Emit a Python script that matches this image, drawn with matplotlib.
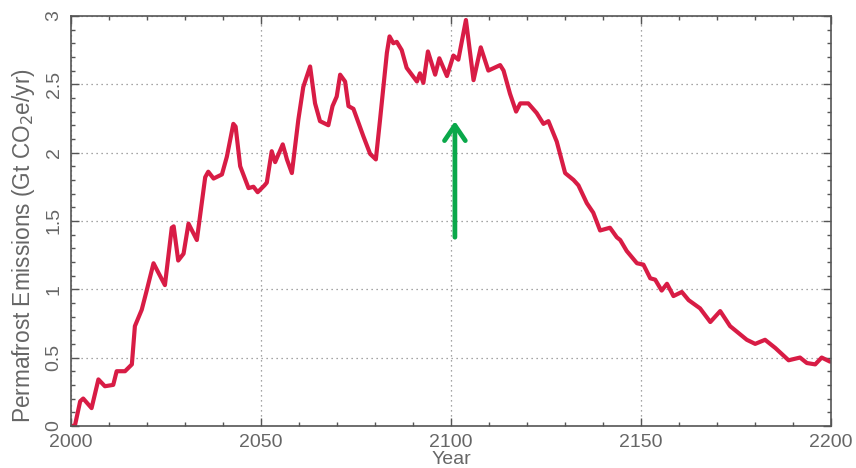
import matplotlib
matplotlib.use("Agg")
import matplotlib.pyplot as plt
from matplotlib.ticker import MultipleLocator

# permafrost carbon emissions, Gt CO2e per year
years = [2000.2, 2001.0, 2002.4, 2003.2, 2005.4, 2007.2, 2008.9, 2011.1, 2012.0,
         2014.2, 2016.0, 2016.8, 2018.6, 2019.9, 2021.7, 2023.0, 2024.7, 2026.5,
         2027.0, 2028.2, 2029.6, 2030.9, 2033.1, 2035.3, 2036.1, 2037.5, 2039.7,
         2041.0, 2042.7, 2043.3, 2044.5, 2046.7, 2048.0, 2049.1, 2050.9, 2051.5,
         2052.8, 2053.7, 2055.7, 2056.8, 2058.1, 2059.8, 2061.1, 2062.9, 2064.2,
         2065.5, 2067.7, 2068.8, 2069.9, 2070.8, 2072.1, 2073.0, 2074.3, 2076.9,
         2078.7, 2080.2, 2081.3, 2083.1, 2083.8, 2084.8, 2085.7, 2087.0, 2088.3,
         2091.0, 2091.8, 2092.7, 2093.9, 2095.8, 2096.9, 2098.9, 2100.6, 2101.9,
         2103.9, 2105.9, 2107.8, 2109.8, 2112.9, 2113.8, 2115.5, 2117.1, 2118.2,
         2120.3, 2122.5, 2124.3, 2125.6, 2127.8, 2130.0, 2132.2, 2133.5, 2135.7,
         2137.4, 2139.2, 2141.8, 2143.6, 2144.5, 2146.2, 2148.9, 2150.6, 2152.4,
         2153.7, 2155.4, 2156.8, 2158.5, 2160.7, 2162.5, 2165.5, 2168.2, 2170.8,
         2173.4, 2175.6, 2177.8, 2180.0, 2182.6, 2185.3, 2188.8, 2191.8, 2193.6,
         2195.8, 2197.5, 2199.7]
emissions = [0.00, 0.00, 0.18, 0.20, 0.13, 0.34, 0.29, 0.30, 0.40,
             0.40, 0.45, 0.73, 0.85, 0.99, 1.19, 1.12, 1.03, 1.45,
             1.46, 1.21, 1.26, 1.48, 1.36, 1.82, 1.86, 1.81, 1.84,
             1.97, 2.21, 2.19, 1.90, 1.74, 1.75, 1.71, 1.76, 1.78,
             2.01, 1.93, 2.06, 1.95, 1.85, 2.24, 2.48, 2.63, 2.36,
             2.23, 2.20, 2.34, 2.41, 2.57, 2.52, 2.34, 2.32, 2.12,
             1.99, 1.95, 2.24, 2.73, 2.85, 2.80, 2.81, 2.75, 2.62,
             2.52, 2.58, 2.51, 2.74, 2.57, 2.69, 2.56, 2.71, 2.68,
             2.97, 2.53, 2.77, 2.60, 2.64, 2.60, 2.43, 2.30, 2.36,
             2.36, 2.29, 2.21, 2.23, 2.08, 1.85, 1.80, 1.76, 1.63,
             1.56, 1.43, 1.45, 1.38, 1.36, 1.28, 1.19, 1.18, 1.08,
             1.07, 0.99, 1.04, 0.95, 0.98, 0.92, 0.86, 0.76, 0.84,
             0.73, 0.68, 0.63, 0.60, 0.63, 0.57, 0.48, 0.50, 0.46,
             0.45, 0.50, 0.47]

arrow_year = 2101
arrow_from = 1.36
arrow_to = 2.25

plt.rcParams['font.family'] = ['Liberation Sans', 'DejaVu Sans']
grey = '#666666'

fig = plt.figure(figsize=(8.56, 4.68), dpi=100)
ax = fig.add_axes([0.083, 0.09, 0.888, 0.876])

ax.plot(years, emissions, color='#d81c45', lw=3.0, solid_joinstyle='round',
        solid_capstyle='round')

ax.annotate('', xy=(arrow_year, arrow_to), xytext=(arrow_year, arrow_from),
            arrowprops=dict(arrowstyle='->,head_length=1.1,head_width=0.75',
                            color='#0aa84a', lw=3.4))

ax.set_xlim(2000, 2200)
ax.set_ylim(0, 3)
ax.xaxis.set_major_locator(MultipleLocator(50))
ax.xaxis.set_minor_locator(MultipleLocator(10))
ax.yaxis.set_major_locator(MultipleLocator(0.5))
ax.yaxis.set_minor_locator(MultipleLocator(0.1))
ax.yaxis.set_major_formatter(plt.FuncFormatter(lambda v, p: '%g' % v))

ax.grid(True, which='major', linestyle=(0, (1, 3)), color='#888888', lw=0.9)
ax.tick_params(which='both', direction='in', top=True, right=True,
               colors='#555555', labelcolor=grey, labelsize=14)
ax.tick_params(which='major', length=6, width=1)
ax.tick_params(which='minor', length=3, width=1)
ax.tick_params(axis='x', pad=6)
ax.tick_params(axis='y', pad=6)
for lbl in ax.get_yticklabels():
    lbl.set_rotation(90)
    lbl.set_va('center')
for sp in ax.spines.values():
    sp.set_color('#555555')
    sp.set_linewidth(1.2)

ax.set_ylabel('Permafrost Emissions (Gt CO$_2$e/yr)', color=grey, fontsize=16.3)
ax.yaxis.set_label_coords(-0.045, 0.44)
ax.set_xlabel('Year', color=grey, fontsize=14, labelpad=0)

fig.savefig('out.png', dpi=100)
